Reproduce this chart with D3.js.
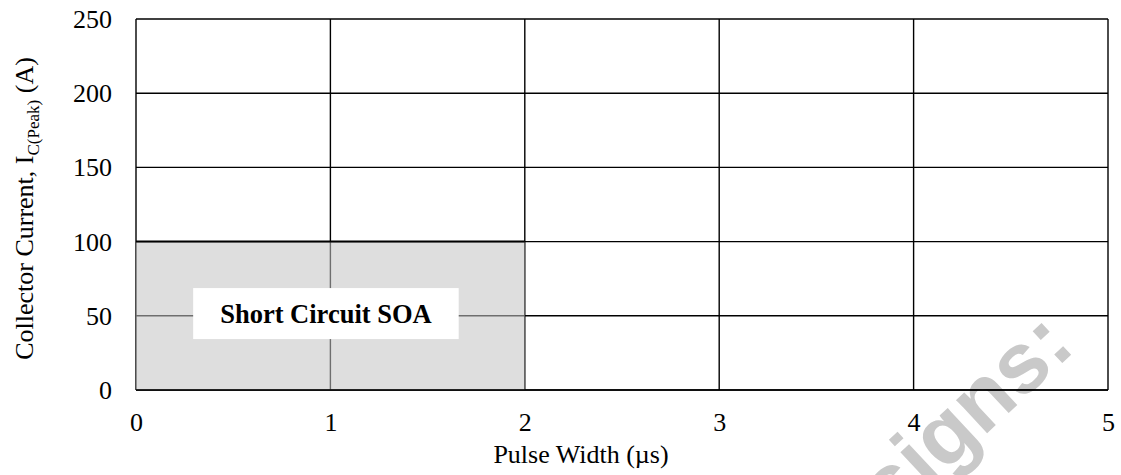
<!DOCTYPE html>
<html>
<head>
<meta charset="utf-8">
<script src="https://cdn.jsdelivr.net/npm/d3@7"></script>
<style>
  html, body { margin: 0; padding: 0; background: #fff; }
  svg { display: block; }
  text { font-family: "Liberation Serif", "Times New Roman", serif; fill: #000; }
</style>
</head>
<body>
<svg id="chart" width="1121" height="475"></svg>
<script>
// ---- data ----
const xTicks = [0, 1, 2, 3, 4, 5];
const yTicks = [0, 50, 100, 150, 200, 250];
const xDomain = [0, 5];
const yDomain = [0, 250];
const soaPulseWidth = [0, 2];      // µs
const soaCurrent = [100, 100];     // A
const soaLabel = "Short Circuit SOA";
const soaLabelAt = [0.977, 51.5];  // data coords of label centre
const xTitle = "Pulse Width (\u00b5s)";
const yTitleMain = "Collector Current, I";
const yTitleSub = "C(Peak)";
const yTitleEnd = " (A)";
const watermark = "signs:";

// ---- layout ----
const W = 1121, H = 475;
const m = { left: 136, right: 13, top: 19, bottom: 85 };
const svg = d3.select("#chart");

const x = d3.scaleLinear().domain(xDomain).range([m.left, W - m.right]);
const y = d3.scaleLinear().domain(yDomain).range([H - m.bottom, m.top]);

// watermark (beneath the chart), clipped by the picture edge as in the original
svg.append("text")
  .attr("transform", "translate(892,522) rotate(-43)")
  .style("font-family", "'Liberation Sans', Arial, sans-serif")
  .style("font-weight", "bold")
  .style("font-size", "86px")
  .style("fill", "#c9c9c9")
  .text(watermark);

// grid lines
const grid = svg.append("g");
grid.selectAll("line.v").data(xTicks).join("line")
  .attr("x1", d => x(d)).attr("x2", d => x(d))
  .attr("y1", y(yDomain[0])).attr("y2", y(yDomain[1]))
  .attr("stroke", "#000").attr("stroke-width", 1.4);
grid.selectAll("line.h").data(yTicks).join("line")
  .attr("x1", x(xDomain[0])).attr("x2", x(xDomain[1]))
  .attr("y1", d => y(d)).attr("y2", d => y(d))
  .attr("stroke", "#000").attr("stroke-width", 1.4);

// SOA area (semi-transparent grey over the grid)
const soaData = soaPulseWidth.map((p, i) => ({ p, c: soaCurrent[i] }));
svg.append("path")
  .datum(soaData)
  .attr("d", d3.area().x(d => x(d.p)).y0(y(0)).y1(d => y(d.c)))
  .attr("fill", "rgb(196,196,196)")
  .attr("fill-opacity", 0.56);
svg.append("path")
  .datum(soaData)
  .attr("d", d3.line().x(d => x(d.p)).y(d => y(d.c)))
  .attr("fill", "none")
  .attr("stroke", "#000")
  .attr("stroke-width", 2);

// bottom axis line on top
svg.append("line")
  .attr("x1", x(xDomain[0])).attr("x2", x(xDomain[1]))
  .attr("y1", y(0)).attr("y2", y(0))
  .attr("stroke", "#000").attr("stroke-width", 1.6);

// axes labels via d3 axes (no domain / tick lines)
const xAxis = svg.append("g")
  .attr("transform", `translate(0,${y(0)})`)
  .call(d3.axisBottom(x).tickValues(xTicks).tickFormat(d3.format("d")).tickSize(0).tickPadding(41));
xAxis.select(".domain").remove();
xAxis.selectAll("text")
  .attr("dy", 0)
  .style("font-family", "'Liberation Serif', serif")
  .style("font-size", "26px");

const yAxis = svg.append("g")
  .attr("transform", `translate(${x(0)},0)`)
  .call(d3.axisLeft(y).tickValues(yTicks).tickFormat(d3.format("d")).tickSize(0).tickPadding(24));
yAxis.select(".domain").remove();
yAxis.selectAll("text")
  .attr("dy", "0.33em")
  .style("font-family", "'Liberation Serif', serif")
  .style("font-size", "26px");

// SOA label with white box
const lx = x(soaLabelAt[0]), ly = y(soaLabelAt[1]);
const lg = svg.append("g");
const lbox = lg.append("rect").attr("fill", "#fff");
const ltext = lg.append("text")
  .attr("x", lx).attr("y", ly + 9.5)
  .attr("text-anchor", "middle")
  .style("font-weight", "bold")
  .style("font-size", "26.5px")
  .text(soaLabel);
const bb = ltext.node().getBBox();
lbox.attr("x", lx - bb.width / 2 - 27).attr("width", bb.width + 54)
    .attr("y", ly - 25.5).attr("height", 51);

// x title
svg.append("text")
  .attr("x", 581).attr("y", 463)
  .attr("text-anchor", "middle")
  .style("font-size", "26px")
  .text(xTitle);

// y title (rotated) with subscript
const yt = svg.append("text")
  .attr("transform", `translate(33,${(y(0) + y(250)) / 2 + 4}) rotate(-90)`)
  .attr("text-anchor", "middle")
  .style("font-size", "26px");
yt.append("tspan").text(yTitleMain);
yt.append("tspan").attr("dy", 6).style("font-size", "17px").text(yTitleSub);
yt.append("tspan").attr("dy", -6).text(yTitleEnd);
</script>
</body>
</html>
